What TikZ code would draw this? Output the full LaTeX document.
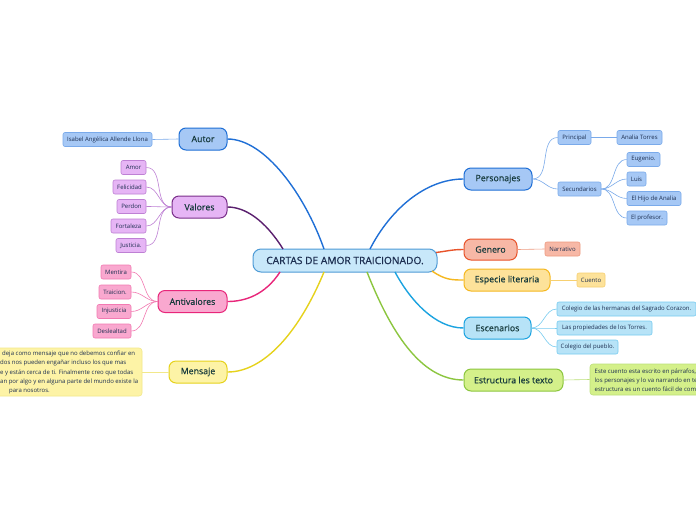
\documentclass[tikz,border=0pt]{standalone}
\usepackage{fontspec}
\setmainfont{Open Sans}
\newfontfamily\semib{Open Sans}[FakeBold=1.0]
\newfontfamily\medb{Open Sans}[FakeBold=0.5]
\definecolor{txt}{HTML}{1C2E50}
\definecolor{btxt}{HTML}{163A3C}
\definecolor{cfill}{HTML}{C8E8FA}\definecolor{cdraw}{HTML}{4E9BD6}
\definecolor{bluefill}{HTML}{A6C8F5}\definecolor{bluedraw}{HTML}{1F6FD6}\definecolor{bluelt}{HTML}{7AAAEA}
\definecolor{purfill}{HTML}{E6B5F5}\definecolor{purdraw}{HTML}{7A2F8A}\definecolor{purline}{HTML}{5A1F6E}\definecolor{purlt}{HTML}{BE80D4}
\definecolor{pinkfill}{HTML}{F9A8CF}\definecolor{pinkdraw}{HTML}{E8267A}\definecolor{pinklt}{HTML}{F27AB2}
\definecolor{yelfill}{HTML}{FDF3A6}\definecolor{yeldraw}{HTML}{E6D21C}\definecolor{yellt}{HTML}{F2E88A}
\definecolor{orfill}{HTML}{F7B8A6}\definecolor{ordraw}{HTML}{E8532A}\definecolor{orlt}{HTML}{EE9A80}
\definecolor{gofill}{HTML}{FDE29A}\definecolor{godraw}{HTML}{F5B820}\definecolor{golt}{HTML}{F7D070}
\definecolor{cyfill}{HTML}{B7E3F7}\definecolor{cydraw}{HTML}{1BA3E0}\definecolor{cylt}{HTML}{78CCF0}
\definecolor{grfill}{HTML}{D4F08A}\definecolor{grdraw}{HTML}{8CC63F}\definecolor{grlt}{HTML}{BCE07A}
\tikzset{
  branch/.style={draw, rounded corners=7pt, line width=1pt, inner sep=0pt, minimum height=22pt, text=btxt, font=\medb\fontsize{8.8}{10}\selectfont},
  leaf/.style={draw, rounded corners=2pt, line width=0.6pt, inner sep=0pt, minimum height=14pt, text=txt, font=\fontsize{6.0}{7}\selectfont},
  main/.style={line width=1.4pt},
  thin/.style={line width=0.6pt},
}
\begin{document}
\begin{tikzpicture}[x=1pt,y=-1pt]
\useasboundingbox (0,0) rectangle (696,520);
\fill[white] (0,0) rectangle (696,520);
% central
\node[draw=cdraw, fill=cfill, rounded corners=8pt, line width=1pt, minimum width=184pt, minimum height=23pt, inner sep=0pt, text=txt, font=\semib\fontsize{10.2}{11}\selectfont] (c) at (345,260.5) {CARTAS DE AMOR TRAICIONADO.};
% left branches
\node[branch, draw=bluedraw, fill=bluefill, minimum width=48pt] (autor) at (203,139) {Autor};
\node[branch, draw=purdraw, fill=purfill, minimum width=55pt] (valores) at (199.5,207) {Valores};
\node[branch, draw=pinkdraw, fill=pinkfill, minimum width=69pt] (anti) at (192.5,301.5) {Antivalores};
\node[branch, draw=yeldraw, fill=yelfill, minimum width=58pt] (mensaje) at (198,372) {Mensaje};
% right branches
\node[branch, draw=bluedraw, fill=bluefill, minimum width=68pt] (pers) at (498,179) {Personajes};
\node[branch, draw=ordraw, fill=orfill, minimum width=53pt, minimum height=21pt] (genero) at (490.5,249.5) {Genero};
\node[branch, draw=godraw, fill=gofill, minimum width=86pt] (especie) at (507,280) {Especie literaria};
\node[branch, draw=cydraw, fill=cyfill, minimum width=67pt] (esc) at (497.5,328) {Escenarios};
\node[branch, draw=grdraw, fill=grfill, minimum width=99pt] (estr) at (513.5,380) {Estructura les texto};
% central connectors
\coordinate (cA) at (324,249);
\coordinate (cV) at (283,249);
\coordinate (cAn) at (280,272);
\coordinate (cM) at (324,272);
\coordinate (cP) at (370,249);
\coordinate (cG) at (436,252.5);
\coordinate (cE) at (432,271);
\coordinate (cS) at (395,272);
\coordinate (cT) at (367,272);
\draw[main, bluedraw] (cA) .. controls (305,195) and (265,139) .. (autor.east);
\draw[main, purline] (cV) .. controls (265,220) and (245,207) .. (valores.east);
\draw[main, pinkdraw] (cAn) .. controls (265,295) and (245,301.5) .. (anti.east);
\draw[main, yeldraw] (cM) .. controls (300,330) and (265,372) .. (mensaje.east);
\draw[main, bluedraw] (cP) .. controls (390,210) and (425,179) .. (pers.west);
\draw[main, ordraw] (cG) .. controls (448,251) and (452,249.5) .. (genero.west);
\draw[main, godraw] (cE) .. controls (445,280) and (452,280) .. (especie.west);
\draw[main, cydraw] (cS) .. controls (410,300) and (435,328) .. (esc.west);
\draw[main, grdraw] (cT) .. controls (390,330) and (420,380) .. (estr.west);
% Autor leaf
\node[leaf, draw=bluelt, fill=bluefill, minimum width=89pt] (isabel) at (107.5,139.5) {Isabel Angélica Allende Llona};
\draw[thin, bluelt] (autor.west) -- (isabel.east);
% Valores leaves
\node[leaf, draw=purlt, fill=purfill, minimum width=25pt] (amor) at (133.5,167.5) {Amor};
\node[leaf, draw=purlt, fill=purfill, minimum width=33pt] (feli) at (129.5,187) {Felicidad};
\node[leaf, draw=purlt, fill=purfill, minimum width=29pt] (perdon) at (131.5,206.5) {Perdon};
\node[leaf, draw=purlt, fill=purfill, minimum width=35pt] (forta) at (128.5,226) {Fortaleza};
\node[leaf, draw=purlt, fill=purfill, minimum width=30pt] (just) at (131,245.5) {Justicia.};
\foreach \n in {amor,feli,perdon,forta,just}
  \draw[thin, purlt] (valores.west) to[out=180,in=0] (\n.east);
% Antivalores leaves
\node[leaf, draw=pinklt, fill=pinkfill, minimum width=30pt] (ment) at (116,272) {Mentira};
\node[leaf, draw=pinklt, fill=pinkfill, minimum width=32pt] (trai) at (115,292) {Traicion.};
\node[leaf, draw=pinklt, fill=pinkfill, minimum width=34pt] (injus) at (114,311.5) {Injusticia};
\node[leaf, draw=pinklt, fill=pinkfill, minimum width=38pt] (desl) at (112,331) {Deslealtad};
\foreach \n in {ment,trai,injus,desl}
  \draw[thin, pinklt] (anti.west) to[out=180,in=0] (\n.east);
% Mensaje text
\node[draw=yellt, fill=yelfill, rounded corners=3pt, line width=0.6pt, minimum width=160pt, minimum height=48pt, inner sep=0pt] (mtxt) at (62,372) {};
\node[anchor=west, align=left, inner sep=0pt, text=txt, font=\fontsize{6.0}{9.2}\selectfont] (mt) at (0,372.5) {\hspace*{2pt}deja como mensaje que no debemos confiar en\\dos nos pueden engañar incluso los que mas\\e y están cerca de ti. Finalmente creo que todas\\an por algo y en alguna parte del mundo existe la\\\hspace*{9pt}para nosotros.};
\draw[thin, yellt] (mensaje.west) -- (mtxt.east);
% Personajes leaves
\node[leaf, draw=bluelt, fill=bluefill, minimum width=33pt] (princ) at (574.5,137.5) {Principal};
\node[leaf, draw=bluelt, fill=bluefill, minimum width=45pt] (analia) at (639.5,137.5) {Analia Torres};
\node[leaf, draw=bluelt, fill=bluefill, minimum width=43pt] (secu) at (579.5,189) {Secundarios};
\node[leaf, draw=bluelt, fill=bluefill, minimum width=33pt] (eug) at (643.5,159.5) {Eugenio.};
\node[leaf, draw=bluelt, fill=bluefill, minimum width=19pt] (luis) at (636.5,179) {Luis};
\node[leaf, draw=bluelt, fill=bluefill, minimum width=54pt] (hijo) at (654,198.5) {El Hijo de Analia};
\node[leaf, draw=bluelt, fill=bluefill, minimum width=40pt] (prof) at (647,218) {El profesor.};
\draw[thin, bluelt] (pers.east) to[out=0,in=180] (princ.west);
\draw[thin, bluelt] (pers.east) to[out=0,in=180] (secu.west);
\draw[thin, bluelt] (princ.east) -- (analia.west);
\foreach \n in {eug,luis,hijo,prof}
  \draw[thin, bluelt] (secu.east) to[out=0,in=180] (\n.west);
% Genero / Especie leaves
\node[leaf, draw=orlt, fill=orfill, minimum width=35pt] (narr) at (562.5,249) {Narrativo};
\draw[thin, orlt] (genero.east) -- (narr.west);
\node[leaf, draw=golt, fill=gofill, minimum width=28pt] (cuento) at (591,280) {Cuento};
\draw[thin, golt] (especie.east) -- (cuento.west);
% Escenarios leaves
\node[leaf, draw=cylt, fill=cyfill, minimum width=139pt] (col1) at (626.5,309) {Colegio de las hermanas del Sagrado Corazon.};
\node[leaf, draw=cylt, fill=cyfill, minimum width=95pt] (prop) at (604.5,328) {Las propiedades de los Torres.};
\node[leaf, draw=cylt, fill=cyfill, minimum width=61pt] (col2) at (587.5,347) {Colegio del pueblo.};
\foreach \n in {col1,prop,col2}
  \draw[thin, cylt] (esc.east) to[out=0,in=180] (\n.west);
% Estructura text
\node[draw=grlt, fill=grfill, rounded corners=3pt, line width=0.6pt, minimum width=130pt, minimum height=31pt, inner sep=0pt] (etxt) at (655,379.5) {};
\node[anchor=west, align=left, inner sep=0pt, text=txt, font=\fontsize{6.0}{9}\selectfont] (et) at (594.5,380) {Este cuento esta escrito en párrafos,\\los personajes y lo va narrando en te\\estructura es un cuento fácil de com};
\draw[thin, grlt] (estr.east) -- (etxt.west);
\end{tikzpicture}
\end{document}
